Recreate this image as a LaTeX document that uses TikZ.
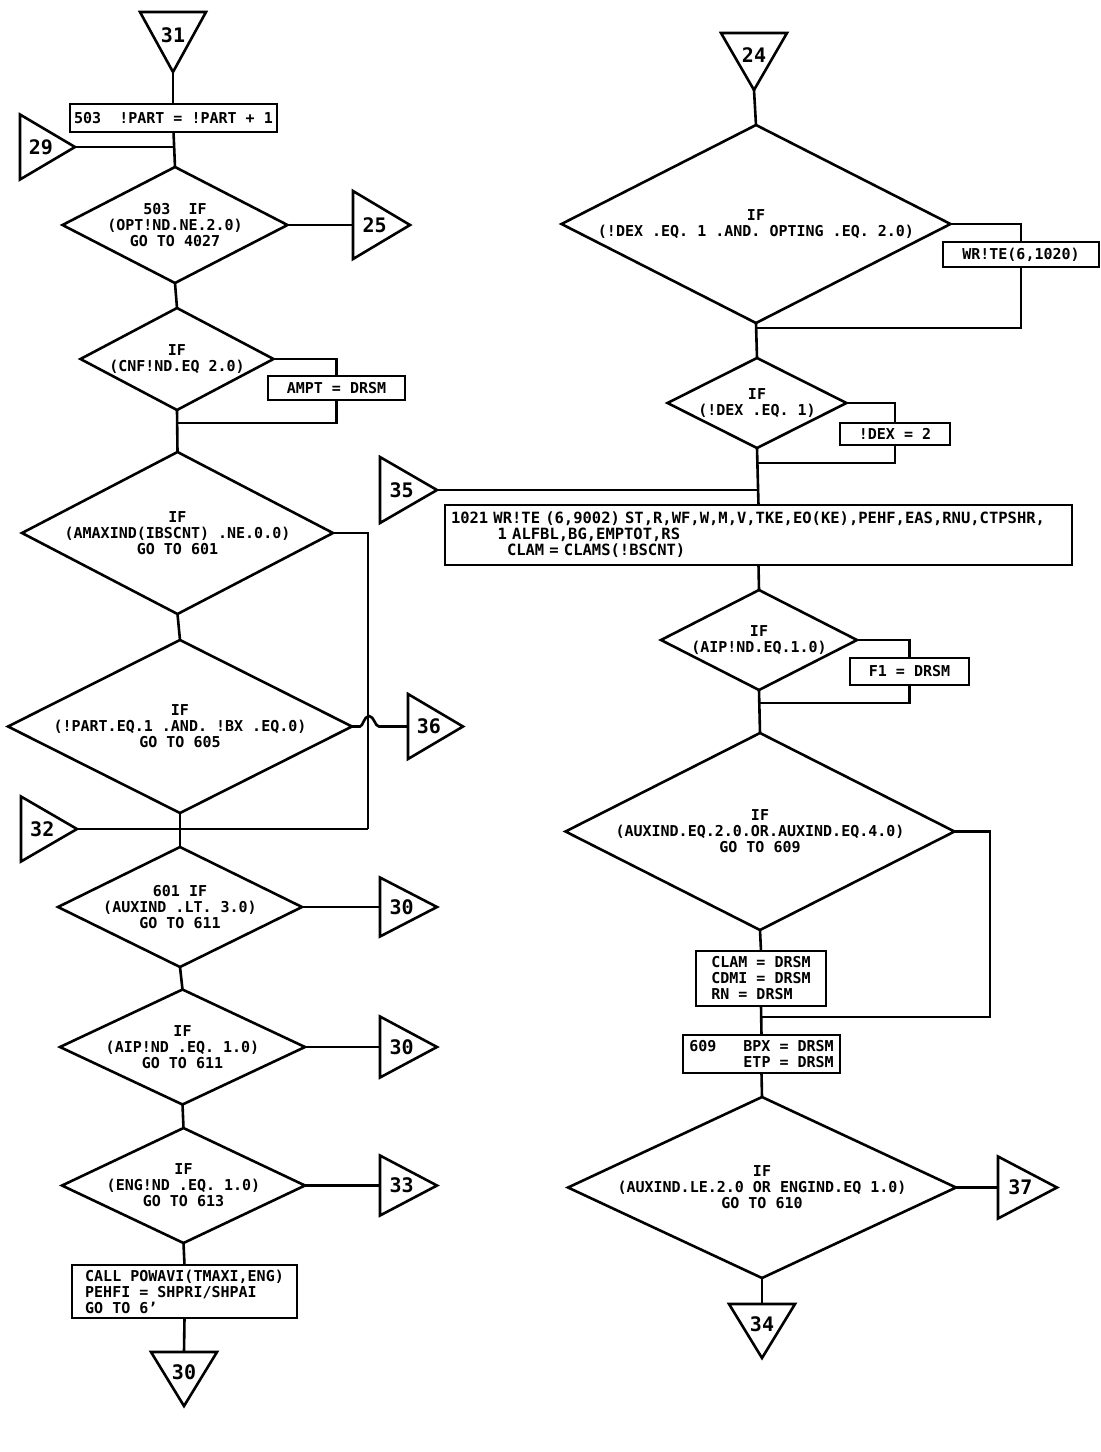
\documentclass[tikz,border=0pt]{standalone}
\usepackage{fontspec}
\setmainfont{DejaVu Sans Mono}
\usetikzlibrary{shapes.geometric,calc}
\newcommand\flowfont{\fontsize{15}{16}\selectfont\bfseries}
\newcommand\bigflowfont{\fontsize{15.5}{16}\selectfont\bfseries}
\newcommand\numfont{\fontsize{20}{22}\selectfont\bfseries}
\tikzset{
  shp/.style={line width=2.6pt, line join=miter},
  con/.style={line width=2.6pt},
  dia/.style={draw, diamond, line width=2.6pt, inner sep=0pt, outer sep=0pt},
  dtext/.style={align=center, font=\flowfont, inner sep=0pt},
  box/.style={draw, rectangle, line width=2.6pt, inner sep=3pt, outer sep=0pt, font=\flowfont, align=left},
  lbl/.style={font=\numfont, inner sep=0pt},
}
% right-pointing connector: name, left x, centre y, half height, depth, label
\newcommand\rtri[6]{%
  \draw[shp] (#2,#3-#4) -- (#2+#5,#3) -- (#2,#3+#4) -- cycle;
  \coordinate (#1-tip) at (#2+#5,#3);
  \coordinate (#1-in) at (#2,#3);
  \node[lbl] (#1) at (#2+0.38*#5,#3) {#6};
}
% down-pointing connector: name, centre x, top y, half width, depth, label
\newcommand\dtri[6]{%
  \draw[shp] (#2-#4,#3) -- (#2+#4,#3) -- (#2,#3+#5) -- cycle;
  \coordinate (#1-tip) at (#2,#3+#5);
  \coordinate (#1-in) at (#2,#3);
  \node[lbl] (#1) at (#2,#3+0.38*#5) {#6};
}
\begin{document}
\begin{tikzpicture}[x=1pt,y=-1pt]
\useasboundingbox[fill=white] (0,0) rectangle (1101,1452);

% ---------------- left column ----------------
\dtri{t31}{173}{12}{33}{60}{31}
\node[box, minimum width=207, minimum height=28] (b503) at (173.5,118) {503\ \ !PART = !PART + 1};
\rtri{t29}{20}{147}{32.5}{55}{29}

\node[dia, minimum width=225, minimum height=116] (d1) at (175,225) {};
\node[dtext] (d1t) at (d1) {503\ \ IF\\(OPT!ND.NE.2.0)\\GO TO 4027};
\rtri{t25}{353}{225}{34}{57}{25}

\node[dia, minimum width=193, minimum height=102] (d2) at (177,359) {};
\node[dtext] (d2t) at (d2) {IF\\(CNF!ND.EQ 2.0)};
\node[box, minimum width=137, minimum height=24] (bampt) at (336.5,388) {AMPT = DRSM};

\node[dia, minimum width=311, minimum height=162] (d3) at (177.5,533) {};
\node[dtext] (d3t) at (d3) {IF\\(AMAXIND(IBSCNT) .NE.0.0)\\GO TO 601};

\node[dia, minimum width=344, minimum height=173] (d4) at (180,726.5) {};
\node[dtext] (d4t) at (d4) {IF\\(!PART.EQ.1 .AND. !BX .EQ.0)\\GO TO 605};
\rtri{t36}{408}{726.5}{32.5}{55}{36}
\rtri{t32}{21}{829}{32.5}{56}{32}

\node[dia, minimum width=244, minimum height=120] (d5) at (180,907) {};
\node[dtext] (d5t) at (d5) {601 IF\\(AUXIND .LT. 3.0)\\GO TO 611};
\rtri{t30a}{380}{907}{29.5}{57}{30}

\node[dia, minimum width=245, minimum height=115] (d6) at (182.5,1047) {};
\node[dtext] (d6t) at (d6) {IF\\(AIP!ND .EQ. 1.0)\\GO TO 611};
\rtri{t30b}{380}{1047}{30.5}{57}{30}

\node[dia, minimum width=243, minimum height=115] (d7) at (183.5,1185.5) {};
\node[dtext] (d7t) at (d7) {IF\\(ENG!ND .EQ. 1.0)\\GO TO 613};
\rtri{t33}{380}{1185.5}{30}{57}{33}

\node[box, minimum width=225, minimum height=53] (bcall) at (184.5,1291.5) {CALL POWAVI(TMAXI,ENG)\\PEHFI = SHPRI/SHPAI\\GO TO 6'};
\dtri{t30c}{184}{1352}{33}{54}{30}

% connectors, left
\draw[con] (t31-tip) -- (t31-tip |- b503.north);
\draw[con] (b503.south) -- (d1.north);
\draw[con] (t29-tip) -- (t29-tip -| d1.north);
\draw[con] (d1.east) -- (t25-in);
\draw[con] (d1.south) -- (d2.north);
\draw[con] (d2.east) -| (bampt.north);
\coordinate (j1) at (177,423);
\draw[con] (bampt.south) |- (j1);
\draw[con] (d2.south) -- (d3.north);
\draw[con] (d3.south) -- (d4.north);
\coordinate (c368) at (368,829);
\draw[con] (d3.east) -| (c368);
\draw[con] (t32-tip) -- (c368);
\draw[con] (d4.east) -- (360,726.5) .. controls (363,726.5) and (364,716) .. (369,716)
   .. controls (374,716) and (375,726.5) .. (379,726.5) -- (t36-in);
\draw[con] (d4.south) -- (d5.north);
\draw[con] (d5.east) -- (t30a-in);
\draw[con] (d5.south) -- (d6.north);
\draw[con] (d6.east) -- (t30b-in);
\draw[con] (d6.south) -- (d7.north);
\draw[con] (d7.east) -- (t33-in);
\draw[con] (d7.south) -- (bcall.north);
\draw[con] (bcall.south) -- (t30c-in);

% ---------------- right column ----------------
\dtri{t24}{754}{33}{33}{57}{24}
\node[dia, minimum width=389, minimum height=198] (d8) at (756,224) {};
\node[dtext] (d8t) at (d8) {IF\\(!DEX .EQ. 1 .AND. OPTING .EQ. 2.0)};
\node[box, minimum width=156, minimum height=25] (bwrite) at (1021,254.5) {WR!TE(6,1020)};

\node[dia, minimum width=179, minimum height=90] (d9) at (757,403) {};
\node[dtext] (d9t) at (d9) {IF\\(!DEX .EQ. 1)};
\node[box, minimum width=110, minimum height=22] (bidex) at (895,434) {!DEX = 2};

\rtri{t35}{380}{490}{33}{57}{35}
\node[box, minimum width=627, minimum height=60, text width=615pt, inner xsep=6pt, font=\bigflowfont] (b1021) at (758.5,535)
  {1021 WR!TE (6,9002) ST,R,WF,W,M,V,TKE,EO(KE),PEHF,EAS,RNU,CTPSHR,\\\hspace*{46.7pt}1 ALFBL,BG,EMPTOT,RS\\\hspace*{56pt}CLAM = CLAMS(!BSCNT)};

\node[dia, minimum width=196, minimum height=100] (d10) at (759,640) {};
\node[dtext] (d10t) at (d10) {IF\\(AIP!ND.EQ.1.0)};
\node[box, minimum width=119, minimum height=27] (bf1) at (909.5,671.5) {F1 = DRSM};

\node[dia, minimum width=389, minimum height=197] (d11) at (760,831.5) {};
\node[dtext] (d11t) at (d11) {IF\\(AUXIND.EQ.2.0.OR.AUXIND.EQ.4.0)\\GO TO 609};

\node[box, minimum width=130, minimum height=55] (bclam) at (761,978.5) {CLAM = DRSM\\CDMI = DRSM\\RN = DRSM};
\node[box, minimum width=157, minimum height=38] (b609) at (761.5,1054) {609\ \ \ BPX = DRSM\\\hspace*{54.2pt}ETP = DRSM};

\node[dia, minimum width=388, minimum height=181] (d12) at (762,1187.5) {};
\node[dtext] (d12t) at (d12) {IF\\(AUXIND.LE.2.0 OR ENGIND.EQ 1.0)\\GO TO 610};
\rtri{t37}{998}{1187.5}{31}{59}{37}
\dtri{t34}{762}{1304}{33}{54}{34}

% connectors, right
\draw[con] (t24-tip) -- (d8.north);
\draw[con] (d8.east) -| (bwrite.north);
\coordinate (j3) at (756.5,328);
\draw[con] (bwrite.south) |- (j3);
\draw[con] (d8.south) -- (d9.north);
\draw[con] (d9.east) -| (bidex.north);
\coordinate (j4) at (757.5,463);
\draw[con] (bidex.south) |- (j4);
\draw[con] (d9.south) -- (b1021.north);
\draw[con] (t35-tip) -- (t35-tip -| b1021.north);
\draw[con] (b1021.south) -- (d10.north);
\draw[con] (d10.east) -| (bf1.north);
\coordinate (j5) at (759,703);
\draw[con] (bf1.south) |- (j5);
\draw[con] (d10.south) -- (d11.north);
\draw[con] (d11.south) -- (bclam.north);
\coordinate (c11) at (990,1017);
\draw[con] (d11.east) -| (c11) -- (c11 -| bclam.south);
\draw[con] (bclam.south) -- (b609.north);
\draw[con] (b609.south) -- (d12.north);
\draw[con] (d12.east) -- (t37-in);
\draw[con] (d12.south) -- (t34-in);
\end{tikzpicture}
\end{document}
